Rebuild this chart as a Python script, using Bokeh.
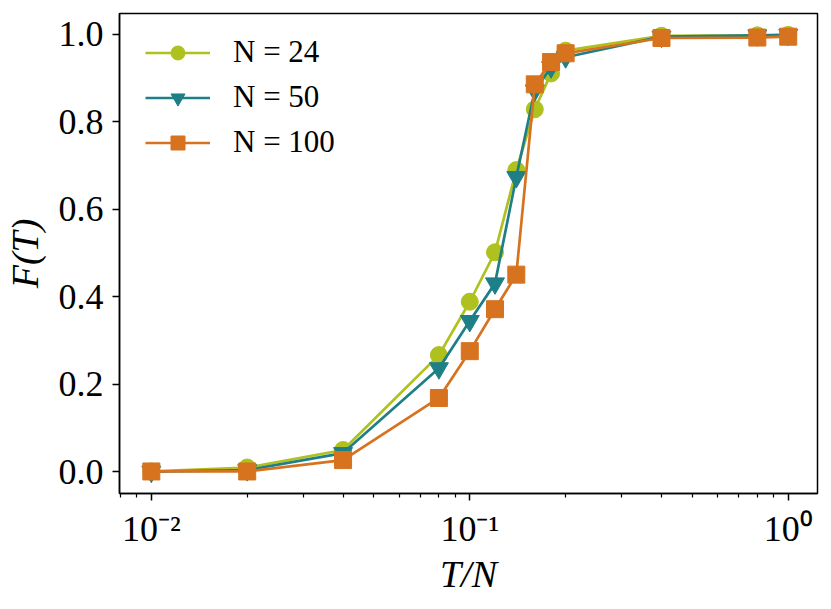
from bokeh.plotting import figure
from bokeh.models import FixedTicker, PrintfTickFormatter, Legend, LegendItem, Range1d
from bokeh.embed import file_html
from bokeh.resources import INLINE

# ---- data ----
t_over_n = [0.01, 0.02, 0.04, 0.08, 0.1, 0.12, 0.14, 0.16, 0.18, 0.2, 0.4, 0.8, 1.0]
f_n24 = [0.001, 0.010, 0.050, 0.267, 0.389, 0.502, 0.690, 0.829, 0.911, 0.963, 0.997, 0.998, 0.999]
f_n50 = [0.0005, 0.004, 0.043, 0.237, 0.345, 0.431, 0.674, 0.872, 0.925, 0.948, 0.995, 0.998, 0.999]
f_n100 = [0.001, 0.001, 0.027, 0.169, 0.276, 0.372, 0.451, 0.886, 0.937, 0.957, 0.992, 0.993, 0.995]
series_labels = ["N = 24", "N = 50", "N = 100"]
x_major = [0.01, 0.1, 1.0]
x_major_labels = ["10\u207b\u00b2", "10\u207b\u00b9", "10\u2070"]
y_major = [0.0, 0.2, 0.4, 0.6, 0.8, 1.0]

colors = ["#afc11f", "#1e7f86", "#d7731f"]
FONT = "Liberation Serif"

p = figure(width=831, height=609, x_axis_type="log",
           x_range=Range1d(10 ** -2.1, 10 ** 0.092), y_range=Range1d(-0.0494, 1.048),
           output_backend="svg", toolbar_location=None,
           min_border_left=119, min_border_right=14, min_border_top=13, min_border_bottom=116)
p.xgrid.visible = False
p.ygrid.visible = False
p.outline_line_color = "black"
p.outline_line_width = 1.5
p.background_fill_color = "white"
p.border_fill_color = "white"

renderers = []
for ys, col, kind in [(f_n24, colors[0], "circle"), (f_n50, colors[1], "inverted_triangle"), (f_n100, colors[2], "square")]:
    ln = p.line(t_over_n, ys, line_color=col, line_width=2.7)
    mk = p.scatter(t_over_n, ys, marker=kind, size=17 if kind != "inverted_triangle" else 19,
                   fill_color=col, line_color=col, line_width=1)
    renderers.append([ln, mk])

minor = [m * 10.0 ** e for e in (-3, -2, -1, 0) for m in range(2, 10)]

p.xaxis.ticker = FixedTicker(ticks=x_major, minor_ticks=minor)
overrides = {}
for v, lab in zip(x_major, x_major_labels):
    overrides[v] = lab
p.xaxis.major_label_overrides = overrides
p.yaxis.ticker = FixedTicker(ticks=y_major, minor_ticks=[])
p.yaxis.formatter = PrintfTickFormatter(format="%.1f")

for ax in (p.xaxis, p.yaxis):
    ax.axis_line_color = "black"
    ax.axis_line_width = 1.5
    ax.major_tick_in = 0
    ax.major_tick_out = 7
    ax.major_tick_line_width = 1.5
    ax.minor_tick_in = 0
    ax.minor_tick_out = 4
    ax.minor_tick_line_width = 1.2
    ax.major_label_text_font = FONT
    ax.major_label_text_font_size = "36px"
    ax.major_label_text_color = "black"
    ax.axis_label_text_font = FONT
    ax.axis_label_text_font_size = "38px"
    ax.axis_label_text_font_style = "italic"
    ax.axis_label_text_color = "black"

p.xaxis.axis_label = "T/N"
p.yaxis.axis_label = "F(T)"
p.xaxis.major_label_standoff = 8
p.yaxis.major_label_standoff = 9
p.xaxis.axis_label_standoff = 1
p.yaxis.axis_label_standoff = 10

legend = Legend(items=[LegendItem(label=lab, renderers=r) for lab, r in zip(series_labels, renderers)],
                location=(22, 329))
legend.border_line_alpha = 0
legend.background_fill_alpha = 0
legend.padding = 4
legend.spacing = 9
legend.glyph_width = 65
legend.glyph_height = 35
legend.label_height = 35
legend.label_standoff = 23
legend.label_text_font = FONT
legend.label_text_font_size = "31px"
legend.label_text_color = "black"
legend.label_text_baseline = "middle"
p.add_layout(legend, "center")

open("out.html", "w").write(file_html(p, INLINE))
